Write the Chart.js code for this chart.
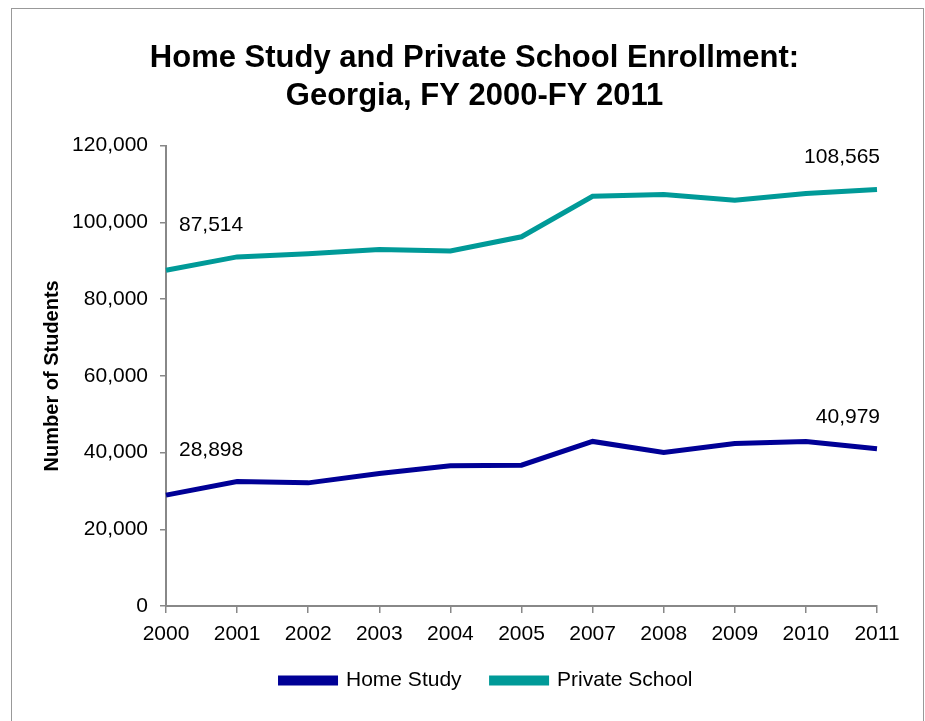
<!DOCTYPE html>
<html>
<head>
<meta charset="utf-8">
<script src="https://cdn.jsdelivr.net/npm/chart.js@4/dist/chart.umd.min.js"></script>
<style>
    body { margin: 0; background: #fff; }
    #frame { position: absolute; left: 11px; top: 8px; width: 911px; height: 800px; border: 1.5px solid #999; }
    #wrap { position: absolute; left: 0; top: 0; width: 925px; height: 721px; }
</style>
</head>
<body>
<div id="frame"></div>
<div id="wrap"><canvas id="enrollChart"></canvas></div>
<script>
// 차트 데이터
const years = ['2000', '2001', '2002', '2003', '2004', '2005', '2007', '2008', '2009', '2010', '2011'];
const homeStudy = [28898, 32450, 32100, 34550, 36550, 36700, 42900, 40000, 42350, 42900, 40979];
const privateSchool = [87514, 91000, 91850, 92950, 92550, 96250, 106800, 107250, 105750, 107500, 108565];
const yTicks = [0, 20000, 40000, 60000, 80000, 100000, 120000];

const FONT = "'Liberation Sans', Arial, sans-serif";
const NAVY = '#000096';
const TEAL = '#009A98';

// 처음/마지막 값 라벨 그리기
const endLabels = {
    id: 'endLabels',
    afterDatasetsDraw(chart) {
        const ctx = chart.ctx;
        ctx.save();
        ctx.font = '21px ' + FONT;
        ctx.fillStyle = '#000';
        ctx.textBaseline = 'middle';
        chart.data.datasets.forEach((ds, i) => {
            const pts = chart.getDatasetMeta(i).data;
            const first = pts[0];
            const last = pts[pts.length - 1];
            ctx.textAlign = 'left';
            ctx.fillText(ds.data[0].toLocaleString('en-US'), first.x + 13, first.y - 45);
            ctx.textAlign = 'right';
            ctx.fillText(ds.data[ds.data.length - 1].toLocaleString('en-US'), last.x + 3, last.y - 32);
        });
        ctx.restore();
    }
};

// 범례를 오른쪽으로 조금 이동
const legendNudge = {
    id: 'legendNudge',
    afterLayout(chart) {
        chart.legend.left += 12;
        chart.legend.right += 12;
    }
};

new Chart(document.getElementById('enrollChart'), {
    type: 'line',
    data: {
        labels: years,
        datasets: [
            {
                label: 'Home Study',
                data: homeStudy,
                borderColor: NAVY,
                backgroundColor: NAVY,
                borderWidth: 5,
                pointRadius: 0,
                tension: 0,
            },
            {
                label: 'Private School',
                data: privateSchool,
                borderColor: TEAL,
                backgroundColor: TEAL,
                borderWidth: 5,
                pointRadius: 0,
                tension: 0,
            },
        ],
    },
    options: {
        responsive: true,
        maintainAspectRatio: false,
        animation: false,
        layout: { padding: { left: 24, right: 0, top: 0, bottom: 20 } },
        scales: {
            x: {
                offset: false,
                grid: { drawOnChartArea: false, color: '#888', tickLength: 7, lineWidth: 1.5 },
                border: { color: '#888', width: 2 },
                ticks: { color: '#000', font: { family: FONT, size: 21 }, padding: 9, maxRotation: 0, autoSkip: false },
                afterFit(scale) { scale.height = 34; scale.paddingRight = 48; },
            },
            y: {
                min: 0,
                max: 120000,
                afterBuildTicks(scale) { scale.ticks = yTicks.map(v => ({ value: v })); },
                grid: { drawOnChartArea: false, color: '#888', tickLength: 6, lineWidth: 1.5 },
                border: { color: '#888', width: 2 },
                ticks: {
                    color: '#000',
                    font: { family: FONT, size: 21 },
                    padding: 12,
                    callback: v => v.toLocaleString('en-US'),
                },
                title: {
                    display: true,
                    text: 'Number of Students',
                    color: '#000',
                    font: { family: FONT, size: 20, weight: 'bold' },
                    padding: { top: 16, bottom: 0 },
                },
                afterFit(scale) { scale.width = 142; },
            },
        },
        plugins: {
            title: {
                display: true,
                text: ['Home Study and Private School Enrollment:', 'Georgia, FY 2000-FY 2011'],
                color: '#000',
                font: { family: FONT, size: 31, weight: 'bold', lineHeight: 1.22 },
                padding: { top: 40, bottom: 30 },
            },
            legend: {
                position: 'bottom',
                labels: {
                    color: '#000',
                    font: { family: FONT, size: 21 },
                    boxWidth: 55,
                    boxHeight: 5,
                    padding: 30,
                },
            },
            tooltip: { enabled: false },
        },
    },
    plugins: [endLabels, legendNudge],
});
</script>
</body>
</html>
